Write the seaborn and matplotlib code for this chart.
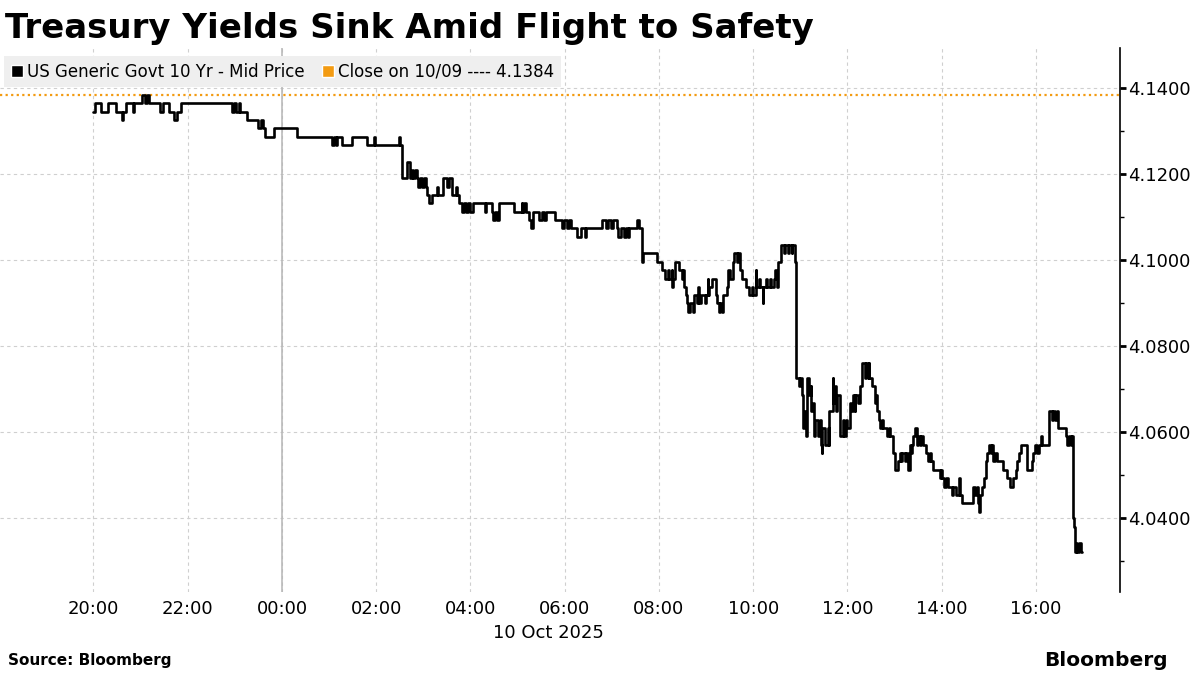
import pandas as pd
import matplotlib.pyplot as plt
import matplotlib.dates as mdates
from matplotlib.patches import Patch
from matplotlib.ticker import FormatStrFormatter, MultipleLocator
import seaborn as sns

# Intraday 10Y yield, minutes after 20:00 on 9 Oct 2025 (step series)
minutes = [
    0, 2, 10, 19, 29, 36, 38, 41, 50, 51, 62, 66, 68, 71, 85, 89, 96, 102, 106, 111,
    176, 179, 182, 185, 187, 195, 210, 213, 216, 219, 230, 259, 304, 306, 309, 310,
    316, 329, 348, 357, 358, 389, 390, 393, 399, 403, 406, 407, 409, 412, 413, 416,
    418, 421, 423, 425, 427, 431, 437, 439, 445, 450, 453, 457, 462, 463, 465, 469,
    472, 474, 477, 479, 483, 499, 500, 508, 509, 511, 514, 516, 536, 545, 546, 548,
    551, 555, 557, 559, 567, 571, 574, 576, 587, 596, 599, 603, 606, 608, 616, 621,
    626, 627, 648, 652, 655, 659, 662, 666, 668, 672, 675, 678, 681, 682, 692, 695,
    698, 700, 718, 724, 728, 731, 733, 736, 737, 738, 740, 746, 749, 751, 752, 755,
    756, 757, 760, 763, 765, 768, 770, 771, 774, 778, 780, 782, 783, 784, 787, 792,
    794, 796, 798, 800, 801, 806, 808, 811, 814, 816, 819, 820, 823, 826, 831, 835,
    838, 840, 843, 844, 847, 849, 852, 853, 856, 858, 861, 863, 866, 868, 870, 871,
    875, 879, 881, 884, 886, 889, 890, 893, 894, 895, 898, 899, 902, 903, 904, 905,
    907, 908, 909, 911, 913, 914, 916, 917, 918, 919, 922, 923, 925, 926, 927, 928,
    931, 932, 935, 936, 937, 941, 942, 944, 946, 947, 950, 951, 954, 955, 958, 960,
    963, 965, 967, 969, 970, 973, 976, 979, 982, 983, 986, 987, 988, 991, 995, 996,
    997, 1000, 1001, 1004, 1005, 1010, 1013, 1014, 1018, 1021, 1024, 1027, 1028, 1030,
    1033, 1035, 1037, 1039, 1041, 1042, 1044, 1046, 1048, 1050, 1052, 1053, 1056, 1060,
    1062, 1065, 1066, 1069, 1078, 1079, 1080, 1083, 1085, 1088, 1093, 1095, 1098, 1102,
    1103, 1106, 1120, 1122, 1125, 1126, 1127, 1129, 1131, 1134, 1136, 1138, 1140, 1143,
    1144, 1145, 1148, 1150, 1158, 1163, 1167, 1171, 1174, 1176, 1178, 1181, 1189, 1195,
    1196, 1199, 1201, 1204, 1206, 1208, 1217, 1220, 1222, 1224, 1227, 1228, 1238, 1240,
    1242, 1245, 1246, 1247, 1248, 1250, 1251, 1252, 1255, 1257, 1259,
]
yields = [
    4.1345, 4.1364, 4.1345, 4.1364, 4.1345, 4.1326, 4.1345, 4.1364, 4.1345, 4.1364,
    4.1384, 4.1364, 4.1384, 4.1364, 4.1345, 4.1364, 4.1345, 4.1326, 4.1345, 4.1364,
    4.1345, 4.1364, 4.1345, 4.1364, 4.1345, 4.1326, 4.1306, 4.1326, 4.1306, 4.1287,
    4.1306, 4.1287, 4.1267, 4.1287, 4.1267, 4.1287, 4.1267, 4.1287, 4.1267, 4.1287,
    4.1267, 4.1287, 4.1267, 4.1190, 4.1227, 4.1190, 4.1209, 4.1190, 4.1209, 4.1190,
    4.1170, 4.1190, 4.1170, 4.1190, 4.1170, 4.1151, 4.1132, 4.1151, 4.1170, 4.1151,
    4.1190, 4.1170, 4.1190, 4.1151, 4.1170, 4.1151, 4.1132, 4.1112, 4.1132, 4.1112,
    4.1132, 4.1112, 4.1132, 4.1112, 4.1132, 4.1112, 4.1093, 4.1112, 4.1093, 4.1132,
    4.1112, 4.1132, 4.1112, 4.1132, 4.1112, 4.1093, 4.1074, 4.1112, 4.1093, 4.1112,
    4.1093, 4.1112, 4.1093, 4.1074, 4.1093, 4.1074, 4.1093, 4.1074, 4.1054, 4.1074,
    4.1054, 4.1074, 4.1093, 4.1074, 4.1093, 4.1074, 4.1093, 4.1074, 4.1054, 4.1074,
    4.1054, 4.1074, 4.1054, 4.1074, 4.1093, 4.1074, 4.0996, 4.1016, 4.0996, 4.0977,
    4.0957, 4.0977, 4.0957, 4.0977, 4.0938, 4.0957, 4.0996, 4.0977, 4.0957, 4.0977,
    4.0938, 4.0919, 4.0899, 4.0880, 4.0899, 4.0880, 4.0919, 4.0899, 4.0938, 4.0899,
    4.0919, 4.0899, 4.0919, 4.0957, 4.0919, 4.0938, 4.0957, 4.0919, 4.0899, 4.0880,
    4.0899, 4.0880, 4.0919, 4.0938, 4.0977, 4.0957, 4.0996, 4.1016, 4.0996, 4.1016,
    4.0977, 4.0957, 4.0938, 4.0919, 4.0938, 4.0919, 4.0977, 4.0938, 4.0957, 4.0938,
    4.0899, 4.0938, 4.0957, 4.0938, 4.0957, 4.0938, 4.0957, 4.0977, 4.0938, 4.0996,
    4.1035, 4.1016, 4.1035, 4.1016, 4.1035, 4.1016, 4.1035, 4.0996, 4.0957, 4.0726,
    4.0707, 4.0726, 4.0687, 4.0668, 4.0609, 4.0648, 4.0590, 4.0629, 4.0726, 4.0687,
    4.0707, 4.0648, 4.0668, 4.0629, 4.0590, 4.0629, 4.0609, 4.0590, 4.0629, 4.0570,
    4.0551, 4.0609, 4.0590, 4.0570, 4.0609, 4.0570, 4.0648, 4.0726, 4.0668, 4.0707,
    4.0648, 4.0687, 4.0629, 4.0590, 4.0629, 4.0590, 4.0629, 4.0609, 4.0668, 4.0648,
    4.0687, 4.0648, 4.0687, 4.0668, 4.0707, 4.0761, 4.0726, 4.0761, 4.0726, 4.0761,
    4.0726, 4.0707, 4.0668, 4.0687, 4.0648, 4.0629, 4.0609, 4.0629, 4.0609, 4.0590,
    4.0609, 4.0590, 4.0551, 4.0512, 4.0532, 4.0551, 4.0532, 4.0551, 4.0532, 4.0551,
    4.0512, 4.0570, 4.0551, 4.0570, 4.0590, 4.0609, 4.0570, 4.0590, 4.0570, 4.0590,
    4.0570, 4.0551, 4.0532, 4.0551, 4.0532, 4.0512, 4.0493, 4.0512, 4.0493, 4.0473,
    4.0493, 4.0473, 4.0454, 4.0473, 4.0454, 4.0493, 4.0454, 4.0434, 4.0473, 4.0454,
    4.0473, 4.0434, 4.0415, 4.0454, 4.0473, 4.0493, 4.0532, 4.0551, 4.0570, 4.0551,
    4.0570, 4.0532, 4.0551, 4.0532, 4.0512, 4.0493, 4.0473, 4.0493, 4.0512, 4.0532,
    4.0551, 4.0570, 4.0512, 4.0532, 4.0551, 4.0570, 4.0551, 4.0570, 4.0590, 4.0570,
    4.0648, 4.0629, 4.0648, 4.0629, 4.0648, 4.0609, 4.0590, 4.0570, 4.0590, 4.0570,
    4.0590, 4.0399, 4.0380, 4.0321, 4.0341, 4.0321, 4.0341, 4.0321, 4.0321,
]
prev_close = 4.1384
start = pd.Timestamp('2025-10-09 20:00')
y_ticks = [4.04, 4.06, 4.08, 4.10, 4.12, 4.14]
series_label = 'US Generic Govt 10 Yr - Mid Price'
close_label = 'Close on 10/09 ---- 4.1384'

df = pd.DataFrame({'Time': start + pd.to_timedelta(minutes, unit='min'), 'Yield': yields})

orange = '#f39b12'

sns.set_theme(style="white")
plt.rcParams['font.family'] = ['DejaVu Sans']
plt.rcParams['text.color'] = 'black'

fig = plt.figure(figsize=(12, 6.75), dpi=100)
ax = fig.add_axes([0, 1 - 592 / 675, 1120 / 1200, (592 - 48) / 675])

# previous close + the yield line
ax.axhline(prev_close, color=orange, ls=(0, (1, 1.5)), lw=1.6, zorder=2)
sns.lineplot(data=df, x='Time', y='Yield', drawstyle='steps-post', color='black',
             linewidth=1.9, estimator=None, ax=ax, zorder=3)

ax.set_xlim(start - pd.Timedelta(minutes=119), start + pd.Timedelta(minutes=1307))
ax.set_ylim(4.0228, 4.1493)
ax.set_xlabel('')
ax.set_ylabel('')

# axes styling
ax.xaxis.set_major_locator(mdates.HourLocator(byhour=range(0, 24, 2)))
ax.xaxis.set_major_formatter(mdates.DateFormatter('%H:%M'))
ax.yaxis.tick_right()
ax.set_yticks(y_ticks)
ax.yaxis.set_minor_locator(MultipleLocator(0.01))
ax.yaxis.set_major_formatter(FormatStrFormatter('%.4f'))
ax.tick_params(axis='y', which='major', direction='out', length=4, width=2,
               labelsize=13, pad=2, colors='black')
ax.tick_params(axis='y', which='minor', direction='out', length=3, width=1, colors='black')
ax.tick_params(axis='x', length=0, labelsize=13, pad=6, colors='black')

ax.grid(True, which='major', ls=(0, (3, 3)), color='#cfcfcf', lw=0.8)
ax.axvline(pd.Timestamp('2025-10-10 00:00'), color='#b5b5b5', lw=1.1, zorder=1)

for side in ['top', 'left', 'bottom']:
    ax.spines[side].set_visible(False)
ax.spines['right'].set_color('black')
ax.spines['right'].set_linewidth(1.2)

ax.legend(handles=[Patch(facecolor='black'), Patch(facecolor=orange)],
          labels=[series_label, close_label], ncol=2, loc='upper left',
          bbox_to_anchor=(4 / 1120, 1 - 8 / 544), frameon=True, facecolor='#efefef',
          edgecolor='none', fancybox=False, framealpha=1, fontsize=12,
          handlelength=0.75, handleheight=0.75, handletextpad=0.25,
          columnspacing=1.0, borderaxespad=0, borderpad=0.4)

# titles / footer
fig.text(5 / 1200, 1 - 38 / 675, 'Treasury Yields Sink Amid Flight to Safety',
         fontsize=24.5, fontweight='bold', va='baseline', color='black')
fig.text(548 / 1200, 1 - 633 / 675, '10 Oct 2025', ha='center', va='center',
         fontsize=13, color='black')
fig.text(8 / 1200, 1 - 661 / 675, 'Source: Bloomberg', fontsize=11,
         fontweight='bold', va='center', color='black')
fig.text(1168 / 1200, 1 - 661 / 675, 'Bloomberg', ha='right', fontsize=14.5,
         fontweight='bold', va='center', color='black')

fig.savefig('out.png', dpi=100)
